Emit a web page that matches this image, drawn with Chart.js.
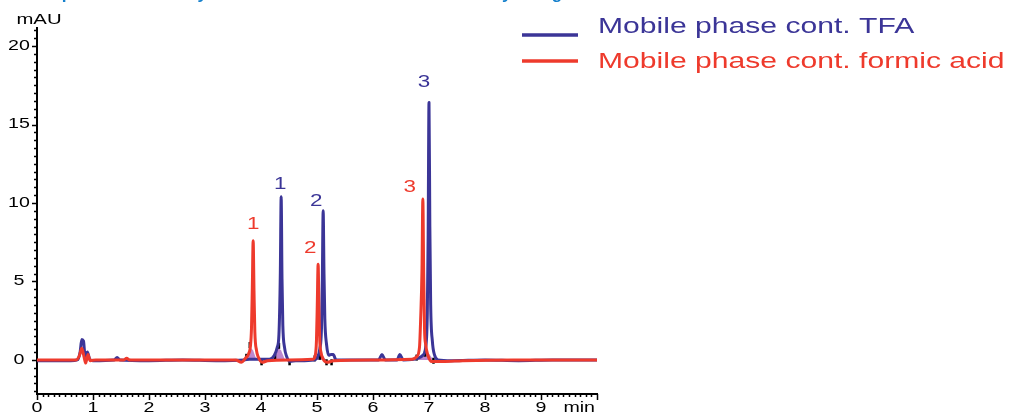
<!DOCTYPE html>
<html>
<head>
<meta charset="utf-8">
<script src="https://cdn.jsdelivr.net/npm/chart.js@4.4.1/dist/chart.umd.min.js"></script>
<style>
  html, body { margin: 0; padding: 0; background: #ffffff; }
  #wrap { width: 1009px; height: 414px; position: relative; }
</style>
</head>
<body>
<div id="wrap"><canvas id="chrom" width="1009" height="414"></canvas></div>
<script>
// Chromatogram traces: [retention time (min), absorbance (mAU)]
const tfaTrace = [
  [0, -0.05], [0.3, -0.05], [0.6, -0.05], [0.72, 0.0], [0.77, 0.5], [0.80, 1.3], [0.83, 1.2],
  [0.86, 0.2], [0.90, 0.5], [0.94, 0.05], [1.0, -0.05], [1.38, 0.0], [1.43, 0.15], [1.48, 0.0],
  [2.0, -0.05], [2.6, 0.0], [3.2, -0.05], [3.7, 0.0], [3.8, 0.05], [4.15, 0.05], [4.24, 0.3],
  [4.29, 0.8], [4.32, 1.6], [4.345, 5.5], [4.36, 10.4], [4.375, 5.2], [4.39, 2.2], [4.42, 0.8],
  [4.46, 0.2], [4.52, -0.1], [4.62, -0.05], [4.95, 0.0], [5.01, 0.2], [5.05, 0.7], [5.08, 2.0],
  [5.095, 5.0], [5.11, 9.5], [5.125, 5.5], [5.14, 2.6], [5.17, 1.0], [5.21, 0.3], [5.25, 0.35],
  [5.29, 0.35], [5.34, 0.0], [6.10, 0.0], [6.16, 0.35], [6.22, 0.0], [6.43, 0.0], [6.48, 0.35],
  [6.54, 0.0], [6.80, 0.1], [6.89, 0.3], [6.94, 0.8], [6.97, 3.0], [6.985, 8.0], [7.00, 16.4],
  [7.015, 8.5], [7.03, 3.5], [7.06, 1.2], [7.10, 0.3], [7.16, 0.0], [7.40, -0.05],
  [8.0, 0.0], [8.6, -0.05], [9.2, 0.0], [10.0, 0.0]
];
const formicTrace = [
  [0, 0.0], [0.5, 0.0], [0.70, 0.0], [0.76, 0.3], [0.80, 0.75], [0.84, 0.2], [0.87, -0.2],
  [0.91, 0.35], [0.95, -0.05], [1.05, 0.0], [1.55, 0.0], [1.60, 0.1], [1.66, 0.0], [2.5, 0.0],
  [3.55, 0.0], [3.65, -0.15], [3.72, 0.1], [3.78, 0.4], [3.81, 0.85], [3.83, 2.0], [3.845, 4.6],
  [3.86, 7.6], [3.875, 4.4], [3.89, 1.8], [3.92, 0.6], [3.95, 0.2], [4.02, -0.15], [4.12, -0.05],
  [4.5, 0.0], [4.93, 0.05], [4.97, 0.3], [4.99, 1.2], [5.005, 3.5], [5.02, 6.1], [5.035, 3.2],
  [5.05, 1.2], [5.07, 0.5], [5.11, 0.05], [5.18, -0.15], [5.30, -0.05], [6.0, 0.0], [6.70, 0.05],
  [6.78, 0.2], [6.83, 0.8], [6.85, 2.5], [6.875, 5.8], [6.89, 10.25], [6.905, 5.5], [6.92, 2.0],
  [6.94, 1.0], [6.98, 0.3], [7.05, -0.1], [7.25, -0.1], [7.6, -0.05], [8.5, 0.0], [10.0, 0.0]
];
// Integrated peak bases (shaded) and integration start/end marks
const baseAreaRed1 = [[3.75, 0.0], [3.80, 0.85], [3.86, 0.6], [3.92, 0.0]];
const baseAreaBlue1 = [[4.24, 0.0], [4.31, 0.8], [4.36, 0.6], [4.43, 0.0]];
const baseArea2 = [[4.96, 0.0], [5.02, 0.3], [5.10, 0.3], [5.16, 0.0]];
const baseArea3 = [[6.80, 0.0], [6.90, 0.4], [7.00, 0.4], [7.08, 0.0]];
const integrationMarks = [
  [3.74, 0.2], [3.80, 0.95], [4.01, -0.15], [4.25, 0.2], [4.32, 0.9], [4.51, -0.15],
  [4.96, 0.1], [5.05, 0.2], [5.17, -0.15], [5.26, -0.15], [6.78, 0.15], [6.93, 0.4], [7.08, -0.05]
];
// Peak numbering: retention times of the numbered peaks in each trace
const peakNames = ['1', '2', '3'];
const tfaPeakTimes = [4.36, 5.11, 7.00];
const formicPeakTimes = [3.86, 5.02, 6.89];
// Axis labels
const xTickLabels = ['0', '1', '2', '3', '4', '5', '6', '7', '8', '9'];
const yTickValues = [0, 5, 10, 15, 20];
const seriesNames = ['Mobile phase cont. TFA', 'Mobile phase cont. formic acid'];
const chartTitle = 'Improved selectivity and resolution of all three solutes by using formic acid';

const BLUE = '#3b3597';
const RED = '#ee3a2c';
const PURPLE = 'rgba(165, 95, 190, 0.75)';
const TITLE_BLUE = '#1580cc';
const STRETCH = 1.4;
const FONT = '"Liberation Sans", Arial, Helvetica, sans-serif';

const toXY = arr => arr.map(p => ({ x: p[0], y: p[1] }));

function wideText(ctx, str, x, y, size, color, align, weight) {
  ctx.save();
  ctx.font = (weight || 'normal') + ' ' + size + 'px ' + FONT;
  ctx.fillStyle = color;
  ctx.textBaseline = 'middle';
  ctx.textAlign = align;
  ctx.translate(x, y);
  ctx.scale(STRETCH, 1);
  ctx.fillText(str, 0, 0);
  ctx.restore();
}

function peakHeight(trace, t) {
  const p = trace.find(q => Math.abs(q[0] - t) < 1e-9);
  return p ? p[1] : 0;
}

const decorations = {
  id: 'decorations',
  afterDraw(chart) {
    const ctx = chart.ctx;
    const xs = chart.scales.x;
    const ys = chart.scales.y;
    const area = chart.chartArea;

    // title (runs off the top edge)
    ctx.save();
    ctx.font = 'bold 17.2px ' + FONT;
    ctx.fillStyle = TITLE_BLUE;
    ctx.textBaseline = 'alphabetic';
    ctx.textAlign = 'left';
    ctx.fillText(chartTitle, 41.7, -1.5);
    ctx.restore();

    // tick marks
    ctx.save();
    ctx.strokeStyle = '#000';
    ctx.lineWidth = 1.5;
    ctx.beginPath();
    for (let i = 0; i <= 100; i++) {
      const px = Math.round(xs.getPixelForValue(i / 10)) + 0.5;
      const len = i % 10 === 0 ? 6 : 3;
      ctx.moveTo(px, area.bottom);
      ctx.lineTo(px, area.bottom + len);
    }
    for (let k = -4; k <= 42; k++) {
      const py = Math.round(ys.getPixelForValue(k / 2)) + 0.5;
      const len = k % 10 === 0 ? 5 : 3;
      ctx.moveTo(area.left, py);
      ctx.lineTo(area.left - len, py);
    }
    ctx.stroke();
    ctx.restore();

    // tick labels
    xTickLabels.forEach((lab, i) => {
      wideText(ctx, lab, xs.getPixelForValue(i), area.bottom + 14, 14, '#000', 'center');
    });
    wideText(ctx, 'min', xs.getPixelForValue(10) - 2, area.bottom + 14, 14, '#000', 'right');
    yTickValues.forEach(v => {
      wideText(ctx, String(v), 19, ys.getPixelForValue(v), 14, '#000', 'center');
    });
    wideText(ctx, 'mAU', 39, 20, 14.5, '#000', 'center');

    // peak numbers
    const blueOff = [[-1, -12], [-7, -9], [-5, -20]];
    const redOff = [[0, -16], [-8, -16], [-13, -11]];
    peakNames.forEach((n, i) => {
      const tb = tfaPeakTimes[i];
      wideText(ctx, n, xs.getPixelForValue(tb) + blueOff[i][0],
        ys.getPixelForValue(peakHeight(tfaTrace, tb)) + blueOff[i][1], 16, BLUE, 'center');
      const tr = formicPeakTimes[i];
      wideText(ctx, n, xs.getPixelForValue(tr) + redOff[i][0],
        ys.getPixelForValue(peakHeight(formicTrace, tr)) + redOff[i][1], 16, RED, 'center');
    });

    // legend
    const legendRows = [
      { name: seriesNames[0], color: BLUE, lineY: 35, textY: 27 },
      { name: seriesNames[1], color: RED, lineY: 61, textY: 62 }
    ];
    legendRows.forEach(r => {
      ctx.save();
      ctx.strokeStyle = r.color;
      ctx.lineWidth = 3.5;
      ctx.beginPath();
      ctx.moveTo(522, r.lineY);
      ctx.lineTo(578, r.lineY);
      ctx.stroke();
      ctx.restore();
      wideText(ctx, r.name, 598, r.textY, 21.5, r.color, 'left');
    });
  }
};

const areaSet = (data) => ({
  data: toXY(data), borderWidth: 0, pointRadius: 0, fill: 'origin',
  backgroundColor: PURPLE, order: 3
});

// monotone interpolation keeps the narrow peaks free of overshoot
const traceStyle = {
  borderWidth: 3, pointRadius: 0, fill: false, cubicInterpolationMode: 'monotone',
  borderJoinStyle: 'round', borderCapStyle: 'round'
};

new Chart(document.getElementById('chrom'), {
  type: 'line',
  data: {
    datasets: [
      Object.assign({ label: seriesNames[1], data: toXY(formicTrace), borderColor: RED, order: 0 }, traceStyle),
      Object.assign({ label: seriesNames[0], data: toXY(tfaTrace), borderColor: BLUE, order: 1 }, traceStyle),
      { label: 'marks', data: toXY(integrationMarks), showLine: false, pointStyle: 'line',
        rotation: 90, pointRadius: 3, borderColor: '#000', borderWidth: 2.5, order: 2 },
      areaSet(baseAreaRed1), areaSet(baseAreaBlue1), areaSet(baseArea2), areaSet(baseArea3)
    ]
  },
  options: {
    responsive: false,
    animation: false,
    devicePixelRatio: 1,
    layout: { padding: { top: 28, right: 412, left: 0, bottom: 0 } },
    plugins: { legend: { display: false }, tooltip: { enabled: false }, title: { display: false } },
    scales: {
      x: {
        type: 'linear', min: 0, max: 10,
        grid: { display: false, drawTicks: false },
        ticks: { display: false },
        border: { display: true, color: '#000', width: 2 },
        afterFit(s) { s.height = 20; }
      },
      y: {
        type: 'linear', min: -2.17, max: 21.15,
        grid: { display: false, drawTicks: false },
        ticks: { display: false },
        border: { display: true, color: '#000', width: 2 },
        afterFit(s) { s.width = 37; }
      }
    }
  },
  plugins: [decorations]
});
</script>
</body>
</html>
